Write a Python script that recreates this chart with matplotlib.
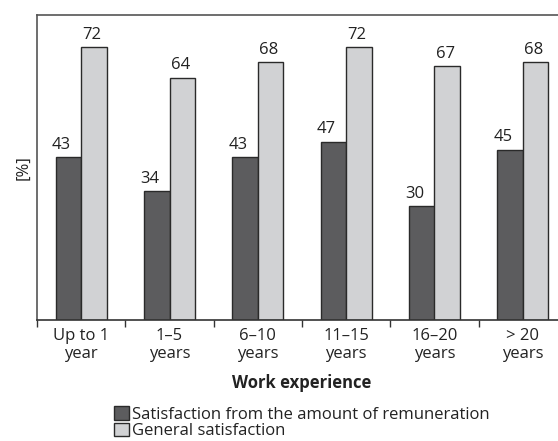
import matplotlib.pyplot as plt
import numpy as np

categories = ["Up to 1\nyear", "1\u20135\nyears", "6\u201310\nyears",
              "11\u201315\nyears", "16\u201320\nyears", "> 20\nyears"]
remuneration = [43, 34, 43, 47, 30, 45]
general = [72, 64, 68, 72, 67, 68]
series_names = ["Satisfaction from the amount of remuneration", "General satisfaction"]

plt.rcParams['font.family'] = ['Open Sans', 'DejaVu Sans']

fig = plt.figure(figsize=(5.58, 4.41), dpi=100)
ax = fig.add_axes([37 / 558, 121 / 441, 530 / 558, 305 / 441])

x = np.arange(len(categories))
w = 0.29
dark = "#5c5c5e"
light = "#d1d2d4"
edge = "#2a2a2a"
txt = "#222222"

b1 = ax.bar(x - w / 2, remuneration, w, color=dark, edgecolor=edge, linewidth=1.0,
            label=series_names[0])
b2 = ax.bar(x + w / 2, general, w, color=light, edgecolor=edge, linewidth=1.0,
            label=series_names[1])

for rect, v in zip(b1, remuneration):
    ax.text(rect.get_x() + rect.get_width() / 2 - 0.08, v + 1.2, str(v), ha="center",
            va="bottom", fontsize=12, color=txt)
for rect, v in zip(b2, general):
    ax.text(rect.get_x() + rect.get_width() / 2 - 0.02, v + 1.2, str(v), ha="center",
            va="bottom", fontsize=12, color=txt)

ax.set_xlim(-0.5, len(categories) - 0.5)
ax.set_ylim(0, 80.5)
ax.set_yticks([])
ax.set_xticks(np.arange(len(categories) + 1) - 0.5)
ax.set_xticklabels([])
ax.set_xticks(x, minor=True)
ax.set_xticklabels(categories, minor=True, fontsize=12, color=txt, linespacing=1.1)
ax.tick_params(axis="x", which="major", direction="out", length=5, width=1, color="#333")
ax.tick_params(axis="x", which="minor", length=0, pad=6)

for s in ax.spines.values():
    s.set_color("#555555")
    s.set_linewidth(1.2)
ax.spines["bottom"].set_color("#333333")

ax.set_ylabel("[%]", fontsize=12, color=txt, labelpad=4)
ax.set_xlabel("Work experience", fontsize=12, fontweight="bold", color=txt, labelpad=9)

fig.legend(handles=[b1, b2], loc="upper left", bbox_to_anchor=(106 / 558, 1 - 398 / 441),
           frameon=False, fontsize=12, handlelength=0.85, handleheight=0.85,
           handletextpad=0.2, labelspacing=0.0, borderpad=0, labelcolor=txt)

fig.savefig("out.png", dpi=100)
